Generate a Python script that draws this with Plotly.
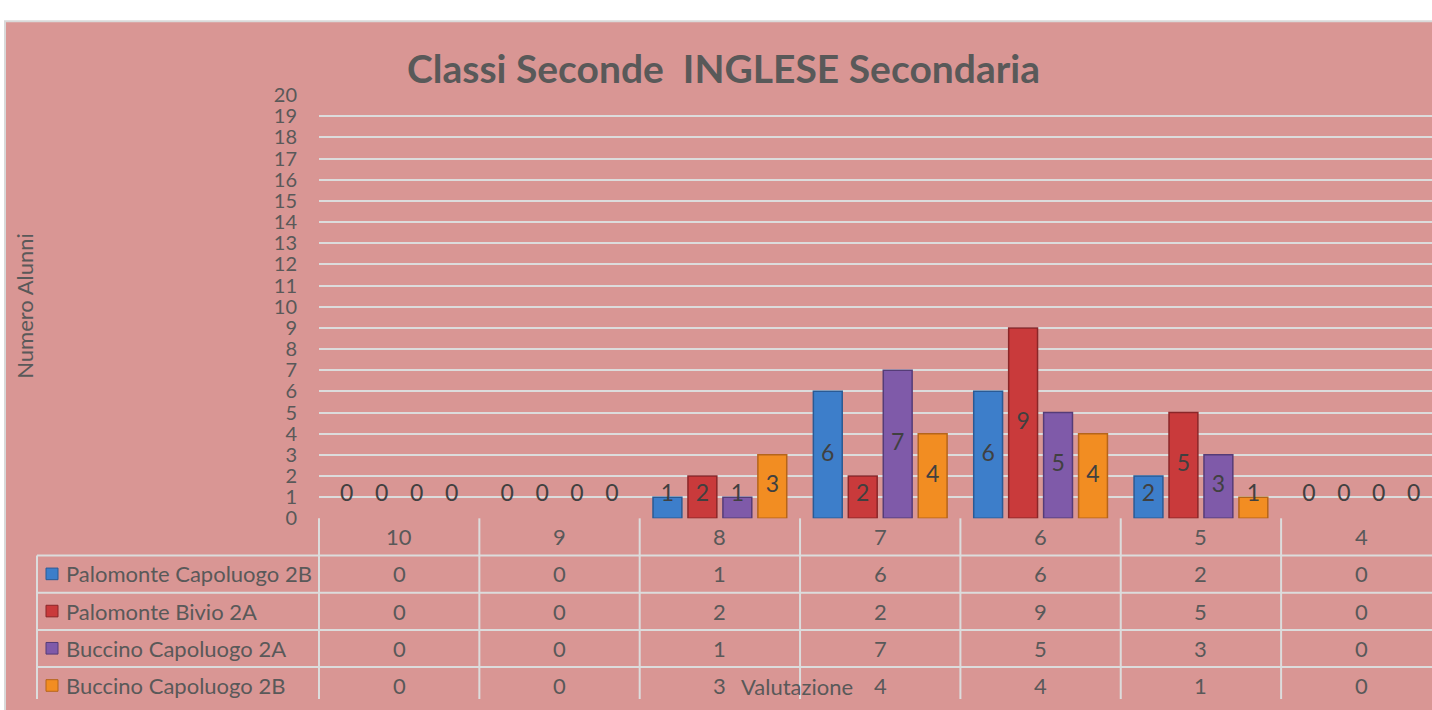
import plotly.graph_objects as go

# ---------------- data ----------------
categories = ["10", "9", "8", "7", "6", "5", "4"]
series_names = ["Palomonte Capoluogo 2B", "Palomonte Bivio 2A",
                "Buccino Capoluogo 2A", "Buccino Capoluogo 2B"]
palomonte_capoluogo_2b = [0, 0, 1, 6, 6, 2, 0]
palomonte_bivio_2a = [0, 0, 2, 2, 9, 5, 0]
buccino_capoluogo_2a = [0, 0, 1, 7, 5, 3, 0]
buccino_capoluogo_2b = [0, 0, 3, 4, 4, 1, 0]
y_tick_values = list(range(0, 21))

title_text = "Classi Seconde  INGLESE Secondaria"
y_title = "Numero Alunni"
x_title = "Valutazione"

# ---------------- style ----------------
W, H = 1432, 710
FONT = "Lato, sans-serif"
BG = "#D99694"
GRID = "#DCDCDC"
TXT = "#595959"
LBL = "#404040"
colors = ["#3D7ECA", "#C93A3B", "#7F5AA9", "#F28D22"]
edges = ["#2A5A94", "#8A2628", "#553C77", "#B5651A"]
all_series = [palomonte_capoluogo_2b, palomonte_bivio_2a,
              buccino_capoluogo_2a, buccino_capoluogo_2b]


def px(x):
    return x / W


def py(y):
    return 1 - y / H


plot_left = 319
cat_px = 160.35
x_right = -0.5 + (W - plot_left) / cat_px
bar_w = 0.18
step = 0.218

fig = go.Figure()

for k, (name, vals) in enumerate(zip(series_names, all_series)):
    centre = (k - 1.5) * step
    fig.add_trace(go.Bar(
        x=list(range(len(categories))), y=vals, name=name,
        width=bar_w, offset=centre - bar_w / 2,
        marker=dict(color=colors[k],
                    line=dict(color=edges[k], width=[0 if v == 0 else 1.5 for v in vals])),
        showlegend=False, hoverinfo="y",
    ))
    fig.add_trace(go.Scatter(
        x=[i + centre for i in range(len(categories))],
        y=[max(v / 2, 1.1) for v in vals],
        text=[str(v) for v in vals], mode="text",
        textfont=dict(family=FONT, size=23, color=LBL),
        showlegend=False, hoverinfo="skip", cliponaxis=False,
    ))

shapes = []
shapes.append(dict(type="rect", xref="paper", yref="paper",
                   x0=px(5), x1=1.05, y0=-0.05, y1=py(8.5),
                   fillcolor=BG, line=dict(color="#D9D9D9", width=2), layer="below"))

row_lines = [561.5, 600, 638.5, 677]
row_centres = [580.5, 619, 657.5, 696]
header_centre = 542

for yl in row_lines:
    shapes.append(dict(type="line", xref="paper", yref="paper",
                       x0=px(37), x1=1, y0=py(yl), y1=py(yl),
                       line=dict(color=GRID, width=2), layer="above"))
shapes.append(dict(type="line", xref="x domain", yref="paper",
                   x0=0, x1=0, y0=py(523), y1=0,
                   line=dict(color=GRID, width=2)))
for j in range(1, len(categories)):
    shapes.append(dict(type="line", xref="x", yref="paper",
                       x0=j - 0.5, x1=j - 0.5, y0=py(523), y1=0,
                       line=dict(color=GRID, width=2)))
shapes.append(dict(type="line", xref="paper", yref="paper",
                   x0=px(37), x1=px(37), y0=py(561.5), y1=0,
                   line=dict(color=GRID, width=2)))

TF = dict(family=FONT, size=22, color=TXT)
annotations = []
for i, c in enumerate(categories):
    annotations.append(dict(x=i, y=py(header_centre), xref="x", yref="paper",
                            text=c, showarrow=False, xanchor="center", yanchor="middle",
                            font=TF))
for k, (name, vals) in enumerate(zip(series_names, all_series)):
    yc = row_centres[k]
    shapes.append(dict(type="rect", xref="paper", yref="paper",
                       x0=px(46), x1=px(58), y0=py(yc + 6), y1=py(yc - 6),
                       fillcolor=colors[k], line=dict(color=edges[k], width=1)))
    annotations.append(dict(x=px(64), y=py(yc), xref="paper", yref="paper",
                            text=name, showarrow=False, xanchor="left", yanchor="middle",
                            font=TF))
    for i, v in enumerate(vals):
        annotations.append(dict(x=i, y=py(yc), xref="x", yref="paper",
                                text=str(v), showarrow=False,
                                xanchor="center", yanchor="middle", font=TF))

annotations.append(dict(x=px(723), y=py(57), xref="paper", yref="paper",
                        text="<b>" + title_text + "</b>", showarrow=False,
                        xanchor="center", yanchor="middle",
                        font=dict(family=FONT, size=39, color=TXT)))
annotations.append(dict(x=px(25), y=py(303), xref="paper", yref="paper",
                        text=y_title, showarrow=False, textangle=-90,
                        xanchor="center", yanchor="middle",
                        font=dict(family=FONT, size=22, color=TXT)))
annotations.append(dict(x=px(797), y=py(697), xref="paper", yref="paper",
                        text=x_title, showarrow=False,
                        xanchor="center", yanchor="middle", font=TF))

fig.update_layout(
    width=W, height=H,
    margin=dict(l=0, r=0, t=0, b=0),
    paper_bgcolor="white",
    plot_bgcolor="rgba(0,0,0,0)",
    barmode="overlay",
    shapes=shapes,
    annotations=annotations,
    font=dict(family=FONT, color=TXT),
    xaxis=dict(domain=[px(plot_left), 1], range=[-0.5, x_right],
               showticklabels=False, showgrid=False, zeroline=False,
               fixedrange=True),
    yaxis=dict(domain=[py(523), py(85)], range=[0, 20],
               tickvals=y_tick_values, ticktext=[str(v) for v in y_tick_values],
               tickfont=dict(family=FONT, size=20, color=TXT),
               showgrid=True, gridcolor=GRID, gridwidth=2,
               zeroline=False, ticks="", ticklabelstandoff=21,
               fixedrange=True),
)

# let the figure fill the 1432x710 window exactly (no default body margin)
page_js = "document.body.style.margin='0';document.body.style.overflow='hidden';"
fig.write_html("out.html", post_script=page_js, config={"displayModeBar": False})
